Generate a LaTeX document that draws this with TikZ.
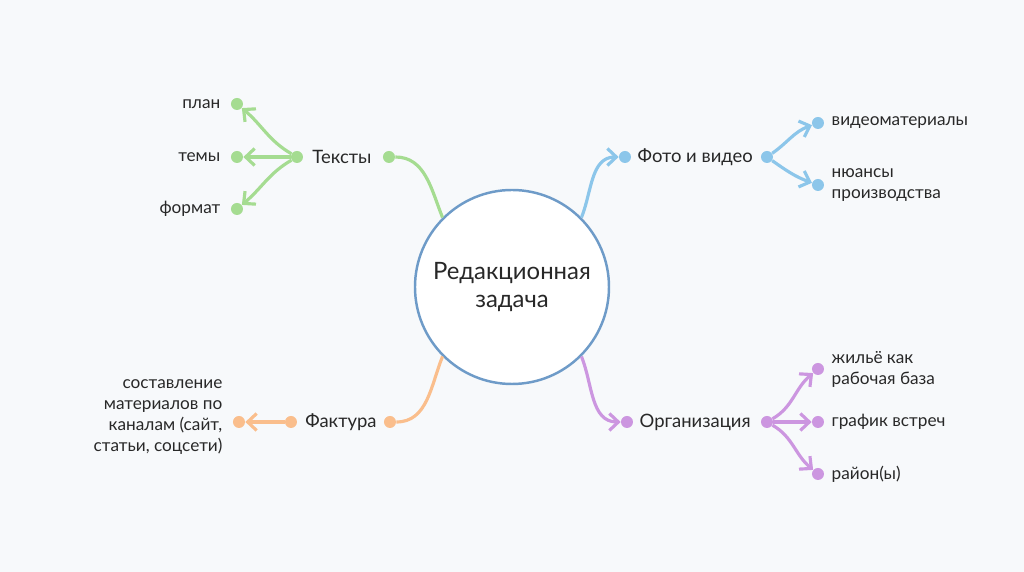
\documentclass[tikz,border=0pt]{standalone}
\usepackage{fontspec}
\setmainfont{Lato}
\usetikzlibrary{arrows.meta,positioning}
\definecolor{bgc}{RGB}{247,249,251}
\definecolor{inkc}{RGB}{40,40,40}
\definecolor{hubc}{RGB}{110,155,200}
\definecolor{txtc}{RGB}{165,220,145}
\definecolor{vidc}{RGB}{140,198,234}
\definecolor{facc}{RGB}{250,190,140}
\definecolor{orgc}{RGB}{204,150,224}
\tikzset{
  hub/.style={circle,draw=hubc,line width=1.4pt,fill=white,minimum size=3.88cm,
    align=center,text=inkc,font=\fontsize{13.6}{15.6}\selectfont},
  dot/.style={circle,fill=#1,inner sep=0pt,minimum size=0.24cm},
  link/.style={draw=#1,line width=1.8pt},
  tip/.style={-{Straight Barb[length=1.8mm,width=3.4mm,line width=1.8pt]}},
  branch/.style={text=inkc,font=\fontsize{10.5}{14}\selectfont,inner sep=0pt},
  leaf/.style={text=inkc,font=\fontsize{9.8}{12}\selectfont,inner sep=0pt}
}
\begin{document}
\begin{tikzpicture}
		% BACKGROUND
		\fill [bgc] (-10.24,5.74) rectangle (10.24,-5.70);
		\node [hub] (task) at (0,0) {Редакционная\\задача};
		% TEXTS
		\node [dot=txtc] (texts-r) at (-2.46,2.6) {};
		\node [dot=txtc] (texts-l) at (-4.30,2.6) {};
		\node [branch] (texts) at (-3.40,2.6) {Тексты};
		\node [dot=txtc] (plan) at (-5.50,3.66) {};
		\node [dot=txtc] (themes) at (-5.50,2.60) {};
		\node [dot=txtc] (format) at (-5.50,1.56) {};
		\node [leaf,left=0.2cm of plan] {план};
		\node [leaf,left=0.2cm of themes] {темы};
		\node [leaf,left=0.2cm of format] {формат};
		\draw [link=txtc] (task.135) to [out=112,in=0] (texts-r);
		\draw [link=txtc,tip] (texts-l) to [out=150,in=-40] (plan);
		\draw [link=txtc,tip] (texts-l) -- (themes);
		\draw [link=txtc,tip] (texts-l) to [out=210,in=40] (format);
		% PHOTO AND VIDEO
		\node [dot=vidc] (video-l) at (2.26,2.6) {};
		\node [dot=vidc] (video-r) at (5.10,2.6) {};
		\node [branch,right=0.12cm of video-l] (video) {Фото и видео};
		\node [dot=vidc] (footage) at (6.12,3.28) {};
		\node [dot=vidc] (making) at (6.12,2.04) {};
		\node [leaf,right=0.14cm of footage] {видеоматериалы};
		\node [leaf,right=0.14cm of making,align=left] {нюансы\\производства};
		\draw [link=vidc,tip] (task.45) to [out=68,in=180] (video-l);
		\draw [link=vidc,tip] (video-r) to [out=35,in=200] (footage);
		\draw [link=vidc,tip] (video-r) to [out=-35,in=160] (making);
		% FACTS
		\node [dot=facc] (facts-r) at (-2.44,-2.7) {};
		\node [dot=facc] (facts-l) at (-4.42,-2.7) {};
		\node [branch] (facts) at (-3.42,-2.7) {Фактура};
		\node [dot=facc] (channels) at (-5.46,-2.7) {};
		\node [leaf,left=0.2cm of channels,align=right,yshift=0.1cm]
			{составление\\материалов по\\каналам (сайт,\\статьи, соцсети)};
		\draw [link=facc] (task.225) to [out=-112,in=0] (facts-r);
		\draw [link=facc,tip] (facts-l) -- (channels);
		% ORGANISATION
		\node [dot=orgc] (org-l) at (2.30,-2.7) {};
		\node [dot=orgc] (org-r) at (5.10,-2.7) {};
		\node [branch,right=0.12cm of org-l] (org) {Организация};
		\node [dot=orgc] (housing) at (6.12,-1.64) {};
		\node [dot=orgc] (meetings) at (6.12,-2.70) {};
		\node [dot=orgc] (district) at (6.12,-3.74) {};
		\node [leaf,right=0.14cm of housing,align=left] {жильё как\\рабочая база};
		\node [leaf,right=0.14cm of meetings] {график встреч};
		\node [leaf,right=0.14cm of district] {район(ы)};
		\draw [link=orgc,tip] (task.315) to [out=-68,in=180] (org-l);
		\draw [link=orgc,tip] (org-r) to [out=30,in=220] (housing);
		\draw [link=orgc,tip] (org-r) -- (meetings);
		\draw [link=orgc,tip] (org-r) to [out=-30,in=140] (district);
\end{tikzpicture}
\end{document}
